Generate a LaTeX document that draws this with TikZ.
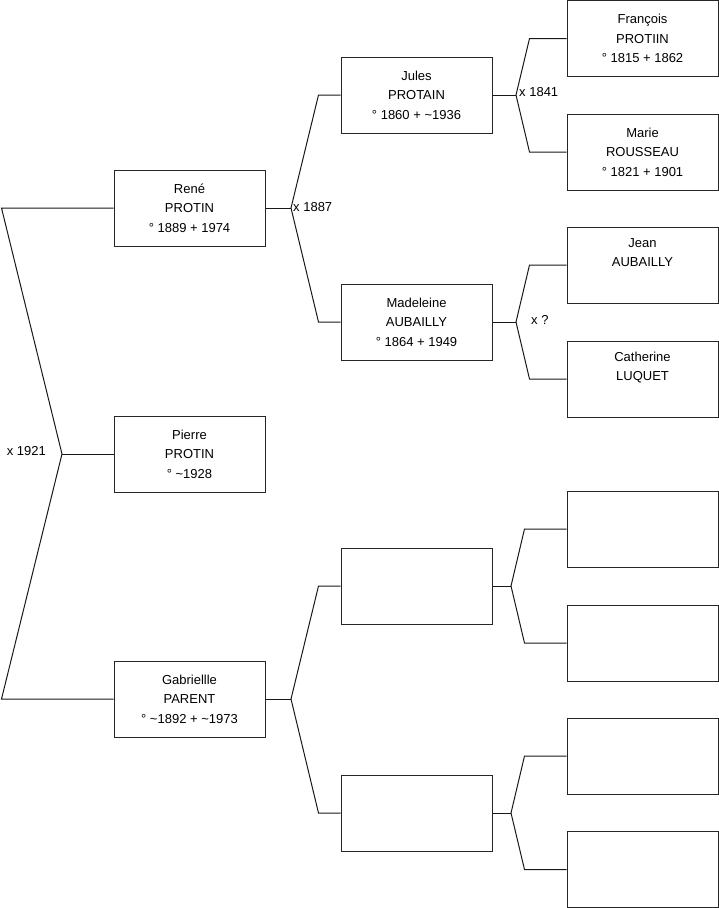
\documentclass[tikz,border=0pt]{standalone}
\usepackage{fontspec}
\setmainfont{Liberation Sans}
\usetikzlibrary{calc}
\tikzset{
  person/.style ={draw=black!85,line width=1pt,fill=white,
                  minimum width=151pt,minimum height=76pt,inner sep=0pt,
                  align=center,font=\fontsize{13}{19.5}\selectfont},
  link/.style   ={black!90,line width=1pt},
  wed/.style    ={font=\fontsize{13}{15}\selectfont,inner sep=1pt},
}

\begin{document}
\begin{tikzpicture}[x=1pt,y=-1pt]
\useasboundingbox (0,0) rectangle (719,908);

% ── first generation ───────────────────────────────────────────────────────
\node[person] (rene)      at (189.5,208) {René\\PROTIN\\° 1889 + 1974};
\node[person] (pierre)    at (189.5,454) {Pierre\\PROTIN\\° \textasciitilde1928};
\node[person] (gabrielle) at (189.5,699) {Gabriellle\\PARENT\\° \textasciitilde1892 + \textasciitilde1973};

% ── second generation ──────────────────────────────────────────────────────
\node[person] (jules)     at (416.5,95)  {Jules\\PROTAIN\\° 1860 + \textasciitilde1936};
\node[person] (madeleine) at (416.5,322) {Madeleine\\AUBAILLY\\° 1864 + 1949};
\node[person] (pgfather)  at (416.5,586) {};
\node[person] (pgmother)  at (416.5,813) {};

% ── third generation ───────────────────────────────────────────────────────
\node[person] (francois)  at (642.5,38.5) {François\\PROTIIN\\° 1815 + 1862};
\node[person] (marie)     at (642.5,152) {Marie\\ROUSSEAU\\° 1821 + 1901};
\node[person] (jean)      at (642.5,265) {Jean\\AUBAILLY\\\strut};
\node[person] (catherine) at (642.5,379) {Catherine\\LUQUET\\\strut};
\node[person] (pgff)      at (642.5,529) {};
\node[person] (pgfm)      at (642.5,643) {};
\node[person] (pgmf)      at (642.5,756) {};
\node[person] (pgmm)      at (642.5,869.5) {};

% ── forks ──────────────────────────────────────────────────────────────────
\coordinate (v0) at (62,454);
\coordinate (v1) at (291,208);
\coordinate (v2) at (291,699);
\coordinate (v3) at (516,95);
\coordinate (v4) at (516,322);
\coordinate (v5) at (511,586);
\coordinate (v6) at (511,813);

\draw[link] (rene.west) -- ++(-112,0) -- (v0) -- ($(gabrielle.west)+(-112,0)$) -- (gabrielle.west);
\draw[link] (v0) -- (pierre.west);
\node[wed,anchor=east] (w1921) at (47,451) {x 1921};

\draw[link] (jules.west) -- ++(-22,0) -- (v1) -- ($(madeleine.west)+(-22,0)$) -- (madeleine.west);
\draw[link] (rene.east) -- (v1);
\node[wed,anchor=west] (w1887) at (292,207) {x 1887};

\draw[link] (pgfather.west) -- ++(-22,0) -- (v2) -- ($(pgmother.west)+(-22,0)$) -- (pgmother.west);
\draw[link] (gabrielle.east) -- (v2);

\draw[link] (francois.west) -- ++(-37,0) -- (v3) -- ($(marie.west)+(-37,0)$) -- (marie.west);
\draw[link] (jules.east) -- (v3);
\node[wed,anchor=west] (w1841) at (518,92) {x 1841};

\draw[link] (jean.west) -- ++(-37,0) -- (v4) -- ($(catherine.west)+(-37,0)$) -- (catherine.west);
\draw[link] (madeleine.east) -- (v4);
\node[wed,anchor=west] (wunk) at (530,320) {x ?};

\draw[link] (pgff.west) -- ++(-42,0) -- (v5) -- ($(pgfm.west)+(-42,0)$) -- (pgfm.west);
\draw[link] (pgfather.east) -- (v5);

\draw[link] (pgmf.west) -- ++(-42,0) -- (v6) -- ($(pgmm.west)+(-42,0)$) -- (pgmm.west);
\draw[link] (pgmother.east) -- (v6);
\end{tikzpicture}
\end{document}
